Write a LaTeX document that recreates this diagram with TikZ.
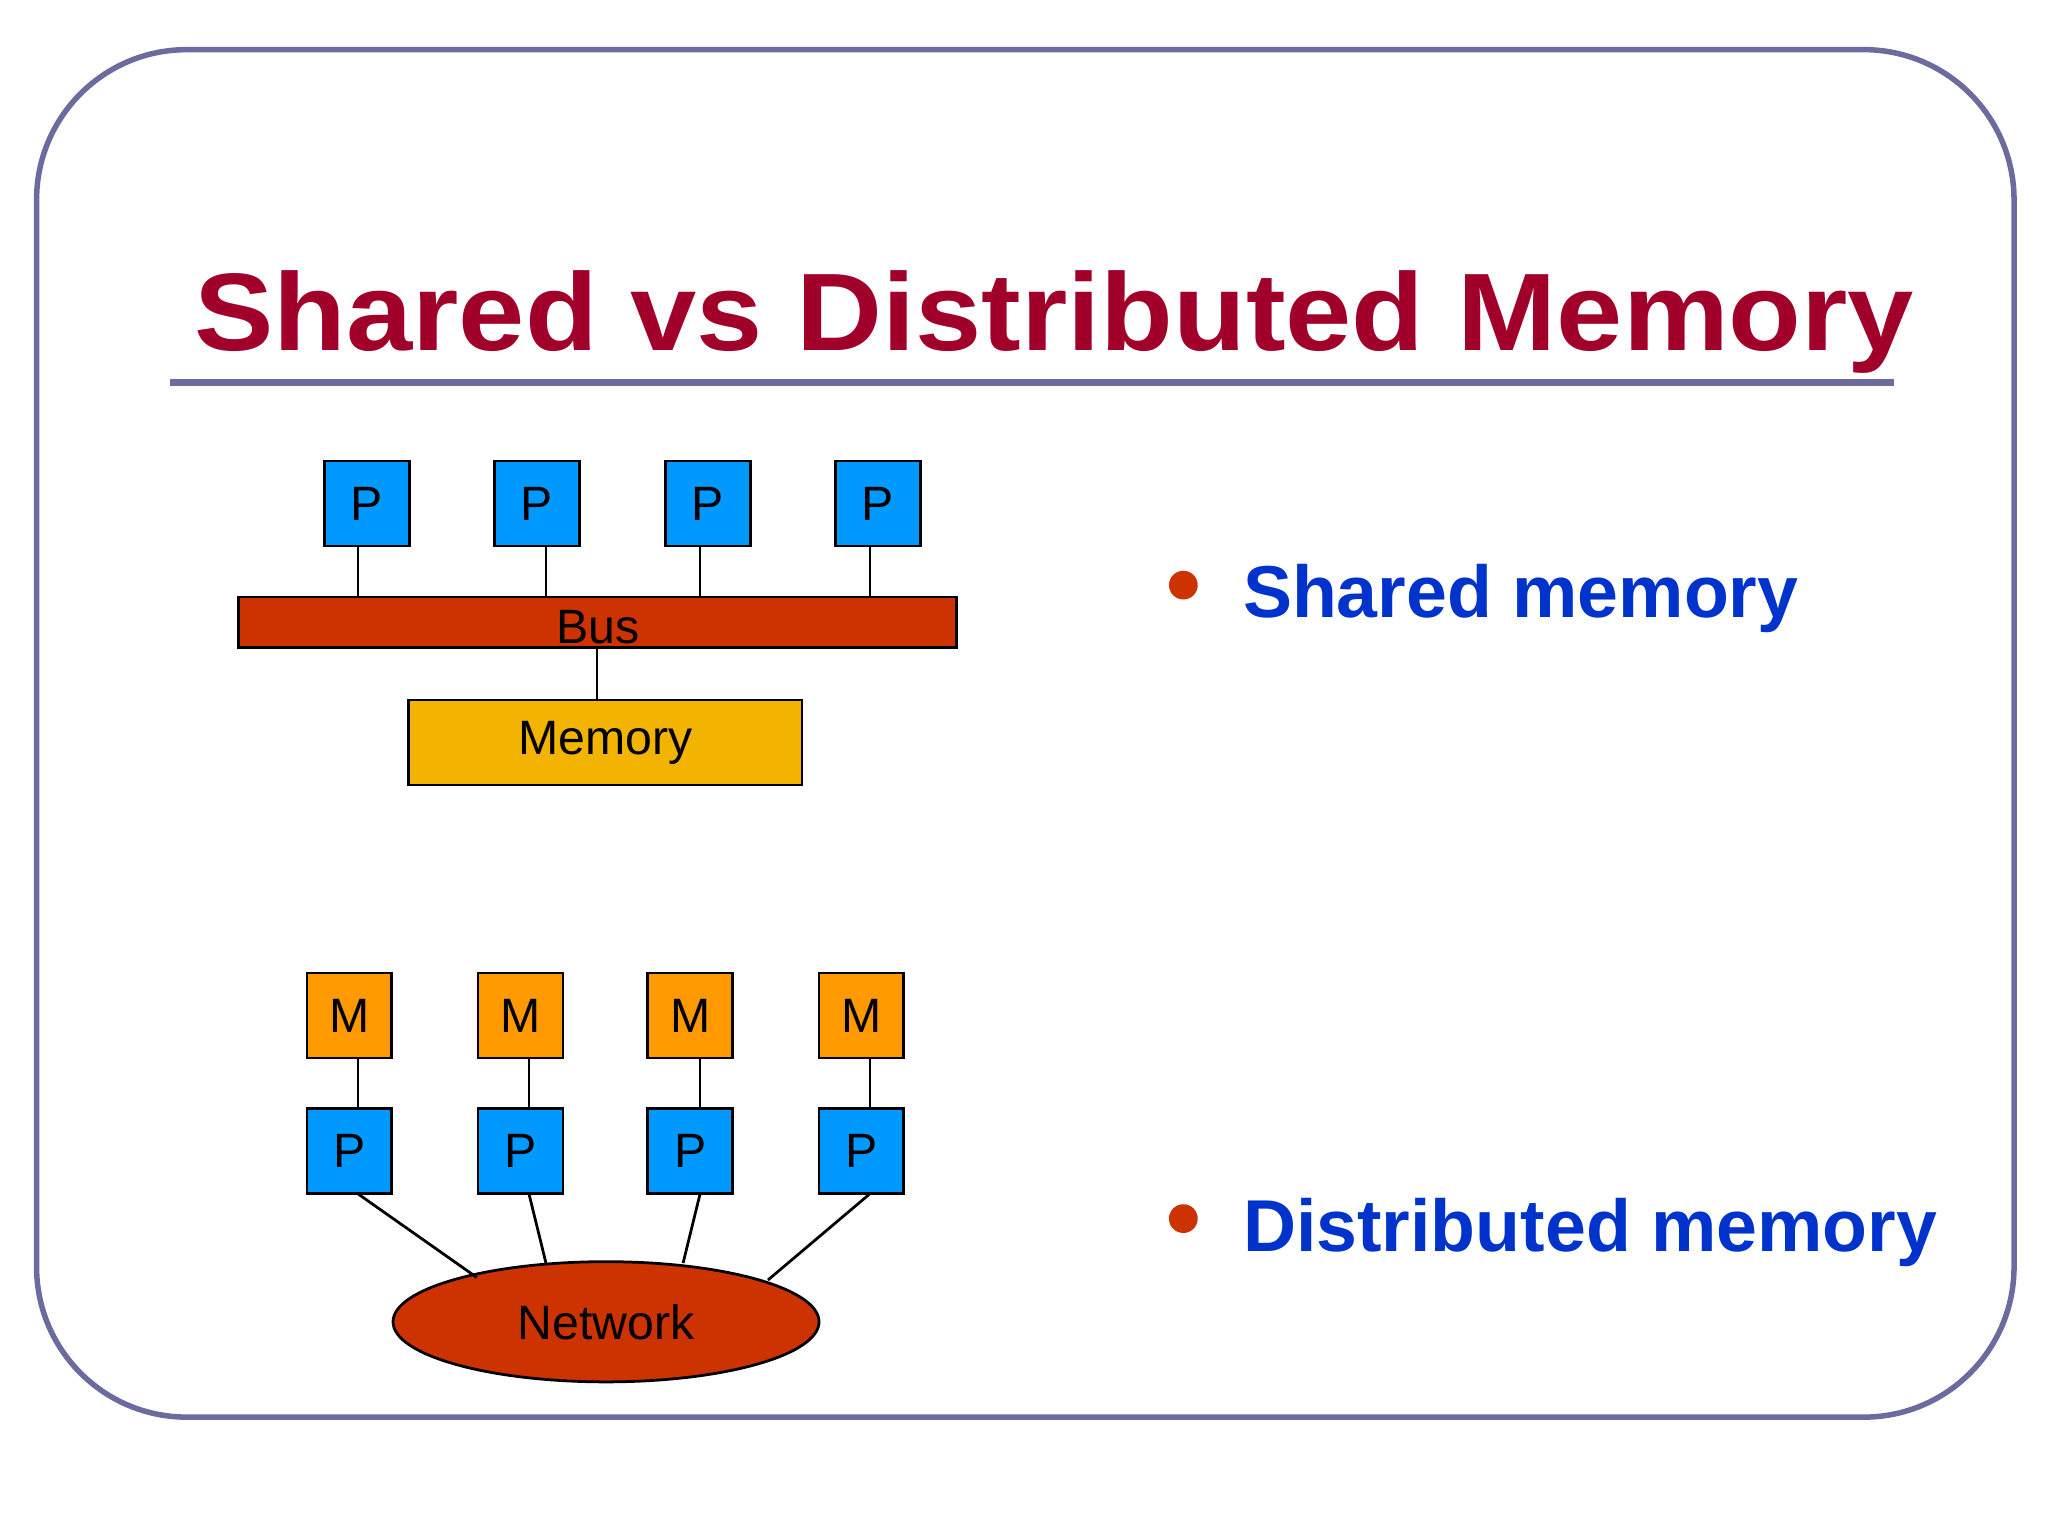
\documentclass[tikz,border=0pt]{standalone}
\usepackage{fontspec}
\setmainfont{Liberation Sans}
\usetikzlibrary{shapes.geometric}
\definecolor{frame}{HTML}{6B6B9E}
\definecolor{titred}{HTML}{A0002A}
\definecolor{pblue}{HTML}{0099FF}
\definecolor{busred}{HTML}{CC3300}
\definecolor{memy}{HTML}{F2B400}
\definecolor{morange}{HTML}{FF9900}
\definecolor{txtblue}{HTML}{0033CC}
\begin{document}
\begin{tikzpicture}[x=0.01cm,y=-0.01cm,
  box/.style={draw=black,line width=0.6pt,minimum width=0.65cm,minimum height=0.65cm,inner sep=0pt,font=\fontsize{10.5}{12}\selectfont},
  pbox/.style={box,fill=pblue},
  mbox/.style={box,fill=morange},
  ln/.style={draw=black,line width=0.6pt},
  bul/.style={font=\bfseries\fontsize{16}{19}\selectfont,text=txtblue,anchor=base west,inner sep=0pt}]
\useasboundingbox (0,0) rectangle (1568,1176);
\draw[frame,line width=1.2pt,rounded corners=1.15cm] (28,38) rectangle (1542,1085);
\node[anchor=base west,inner sep=0pt,text=titred,font=\bfseries\fontsize{24}{28}\selectfont] (title) at (148,268) {\scalebox{1.08}[1]{Shared vs Distributed Memory}};
\draw[frame,line width=1.5pt] (130,293) -- (1450,293);
% shared
\foreach \i/\x in {1/281,2/411,3/542,4/672}{\node[pbox] (p\i) at (\x,385.5) {P};}
\node[draw=black,line width=0.6pt,fill=busred,minimum width=5.49cm,minimum height=0.39cm,inner sep=0pt] (bus) at (457.5,476.5) {};
\node[font=\fontsize{10.5}{12}\selectfont] at (458,480) {Bus};
\node[box,fill=memy,minimum width=3.01cm] (mem) at (463.5,568.5) {Memory};
\foreach \i/\x in {1/274,2/418,3/536,4/666}{\draw[ln] (\x,418) -- (\x,457);}
\draw[ln] (457,496) -- (457,536);
% distributed
\foreach \i/\x in {1/267.5,2/398.5,3/528.5,4/659.5}{
  \node[mbox] (m\i) at (\x,777.5) {M};
  \node[pbox] (q\i) at (\x,881.5) {P};}
\foreach \x in {274,405,536,666}{\draw[ln] (\x,810) -- (\x,849);}
\node[ellipse,draw=black,line width=0.6pt,fill=busred,minimum width=3.26cm,minimum height=0.92cm,inner sep=0pt,font=\fontsize{10.5}{12}\selectfont] (net) at (464,1012) {Network};
\draw[ln] (274,914) -- (365,978);
\draw[ln] (405,914) -- (418,967);
\draw[ln] (536,914) -- (523,967);
\draw[ln] (666,914) -- (588,980);
% bullets
\fill[busred] (906,448) circle (11);
\fill[busred] (906,933) circle (11);
\node[bul] (b1) at (951,473) {Shared memory};
\node[bul] (b2) at (951,958) {Distributed memory};
\end{tikzpicture}
\end{document}
